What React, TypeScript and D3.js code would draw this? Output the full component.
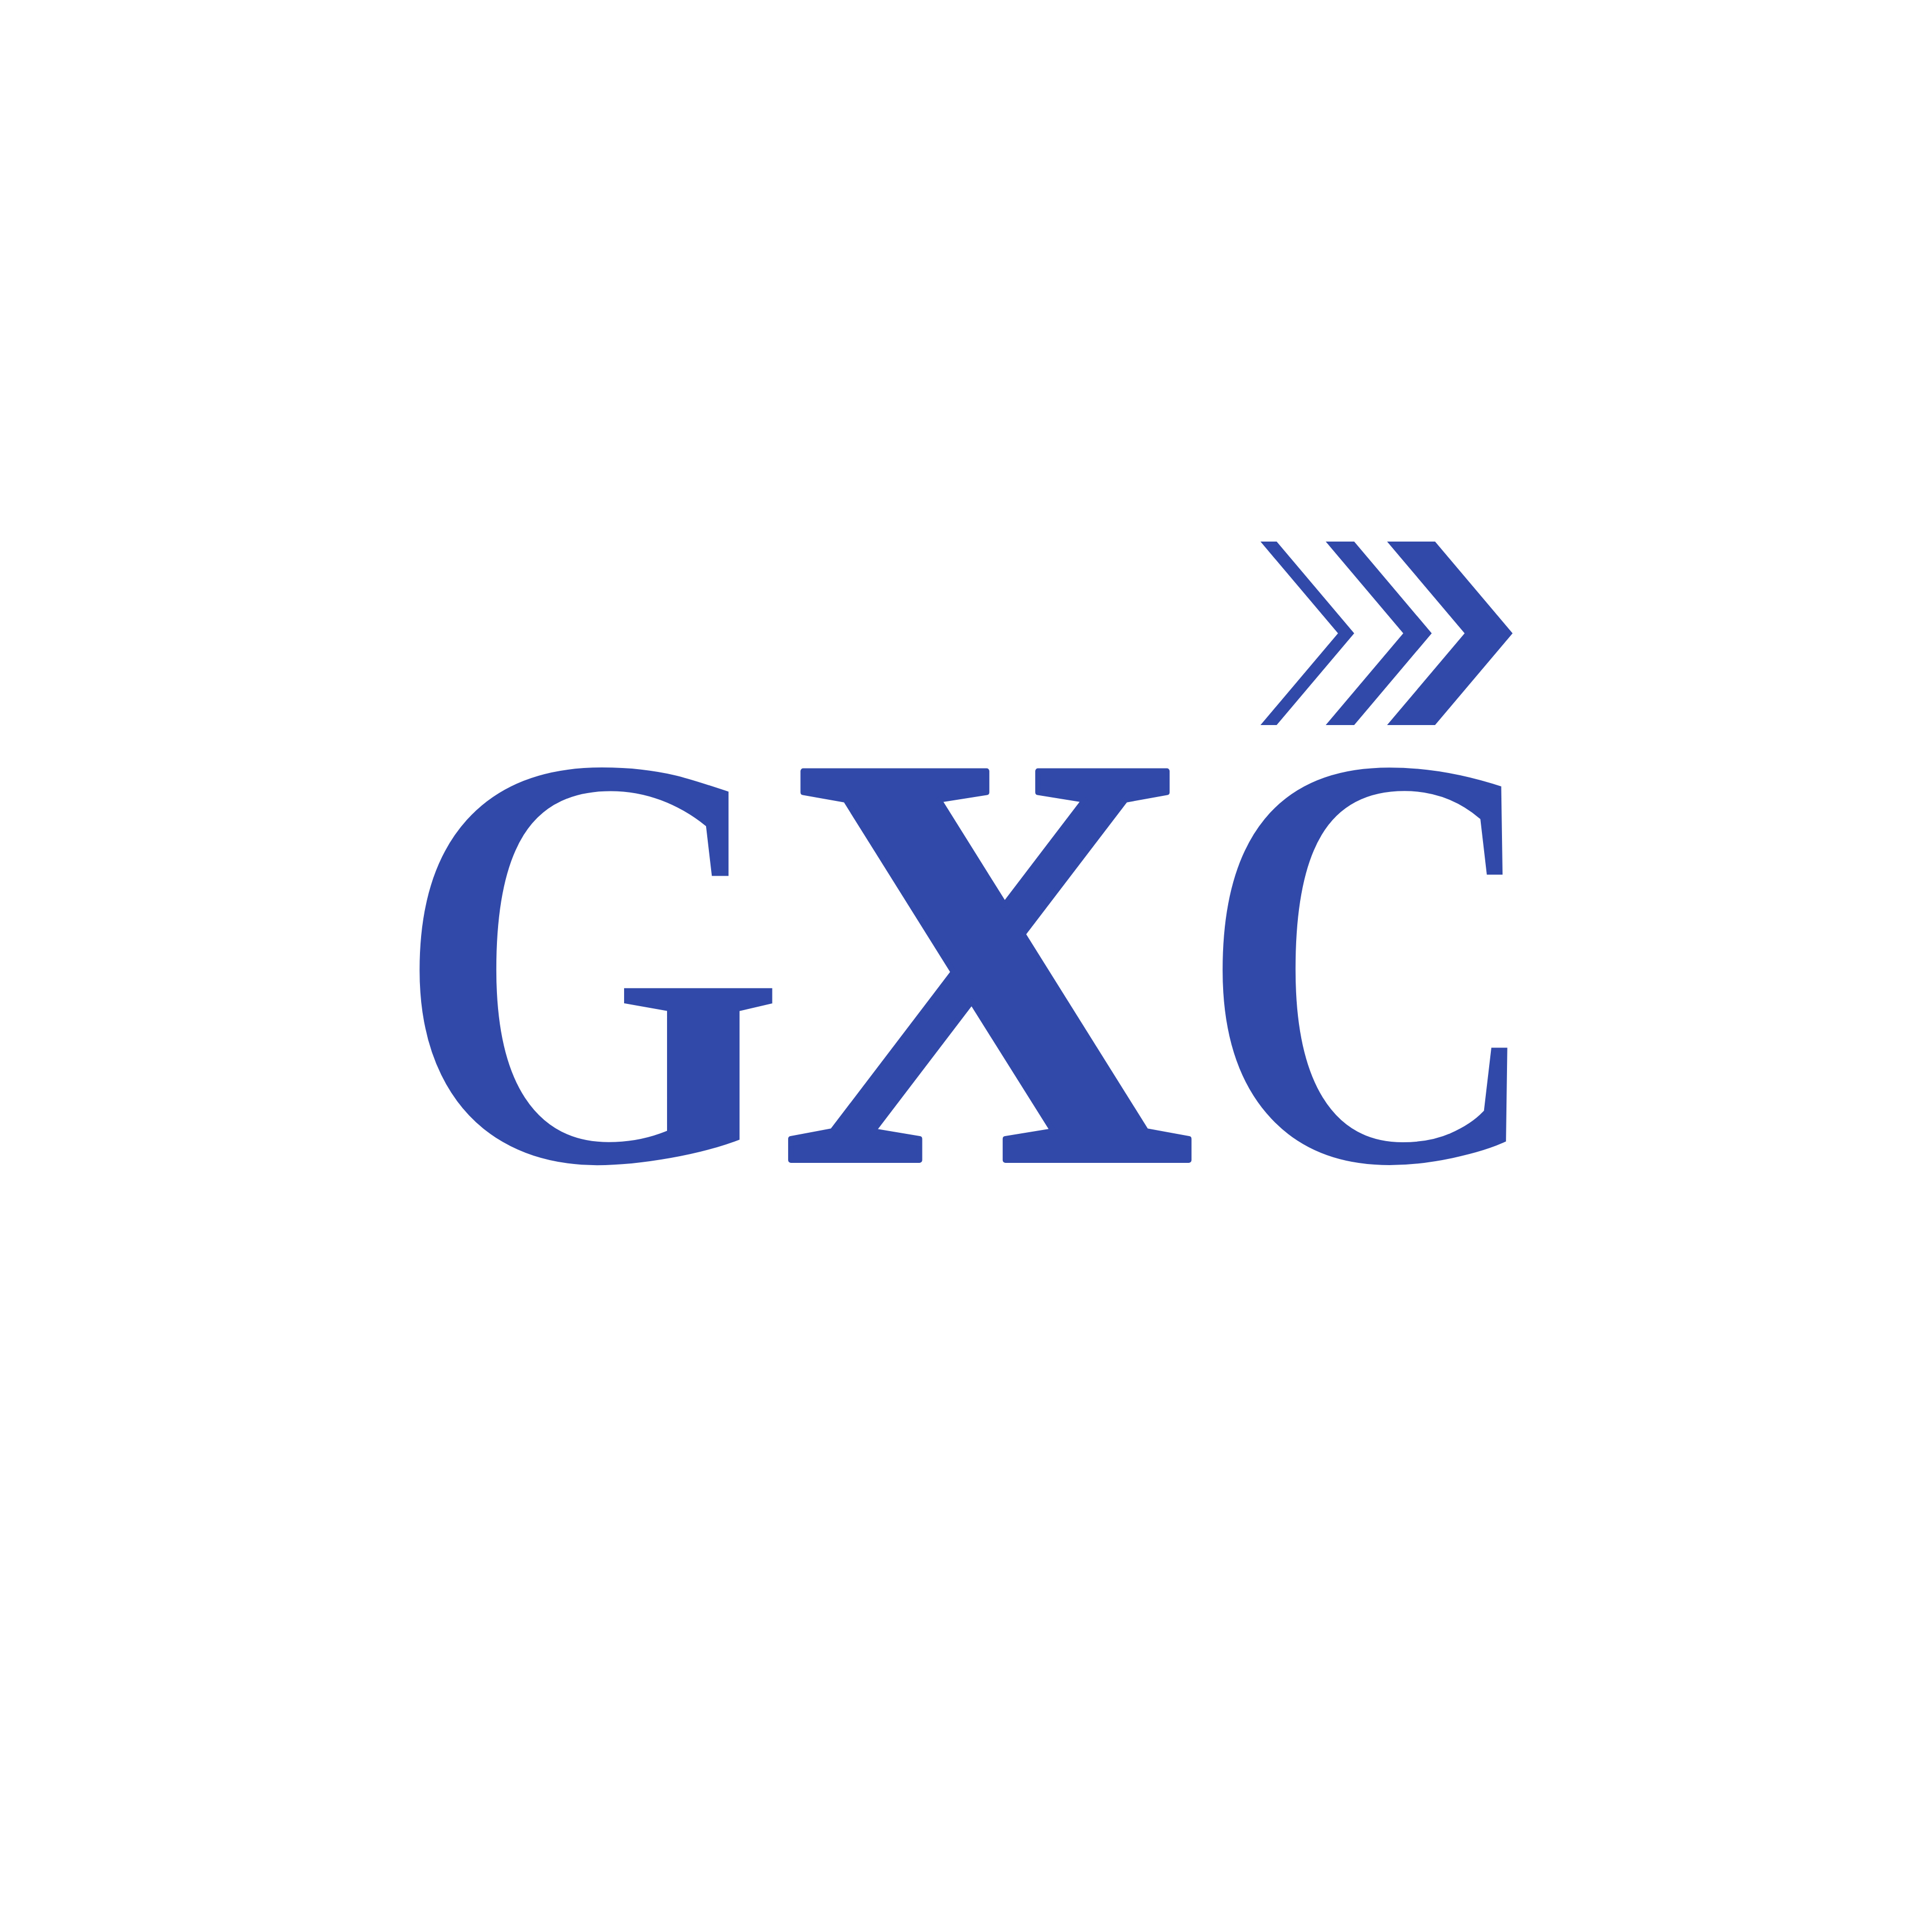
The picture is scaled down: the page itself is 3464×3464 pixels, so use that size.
import { useEffect, useRef } from "react";
import * as d3 from "d3";

const SIZE = 3464;
const BLUE = "#3149a9";
const FONT = '"Liberation Serif", "DejaVu Serif", serif';
const FONT_WEIGHT = "bold";

// wordmark letters and the ink box each one fills: [left, top, right, bottom]
const LETTERS = ["G", "X", "C"];
const LETTER_BOXES: [number, number, number, number][] = [
  [751, 1365, 1398, 2096],
  [1410, 1376, 2145, 2085],
  [2191, 1365, 2711, 2096],
];
// pixels taken off (positive) or added to (negative) each side of a glyph's outline,
// so the weight comes closer to the reference lettering
const LETTER_TRIM = [6, -5, 6];

// the three chevrons above the C: left edge of the arm and arm width
const CHEVRON_LEFT = [2260, 2377, 2487];
const CHEVRON_WIDTH = [29, 51, 86];
const CHEVRON_DEPTH = 139;
const CHEVRON_SPAN: [number, number] = [971, 1300];

export default function App() {
  const svgRef = useRef<SVGSVGElement>(null);

  useEffect(() => {
    if (!svgRef.current) return;
    const svg = d3.select(svgRef.current);
    svg.selectAll("*").remove();

    svg.append("rect").attr("width", SIZE).attr("height", SIZE).attr("fill", "#fff");

    // vertical position along a chevron: 0 = top, 0.5 = tip, 1 = bottom
    const y = d3.scaleLinear().domain([0, 1]).range(CHEVRON_SPAN);
    const line = d3.line().curve(d3.curveLinearClosed);

    svg
      .append("g")
      .selectAll("path")
      .data(CHEVRON_LEFT.map((x, i) => ({ x, w: CHEVRON_WIDTH[i] })))
      .join("path")
      .attr("fill", BLUE)
      .attr("d", (d) =>
        line([
          [d.x, y(0)],
          [d.x + d.w, y(0)],
          [d.x + d.w + CHEVRON_DEPTH, y(0.5)],
          [d.x + d.w, y(1)],
          [d.x, y(1)],
          [d.x + CHEVRON_DEPTH, y(0.5)],
        ]),
      );

    // fit each glyph's ink bounds to its box
    const FS = 1000;
    const ctx = document.createElement("canvas").getContext("2d")!;
    ctx.font = `${FONT_WEIGHT} ${FS}px ${FONT}`;

    const g = svg.append("g");
    LETTERS.forEach((letter, i) => {
      const trim = LETTER_TRIM[i];
      const [L, T, R, B] = LETTER_BOXES[i].map((v, k) => (k < 2 ? v - trim : v + trim));
      const m = ctx.measureText(letter);
      const inkL = -m.actualBoundingBoxLeft;
      const inkR = m.actualBoundingBoxRight;
      const inkT = -m.actualBoundingBoxAscent;
      const inkB = m.actualBoundingBoxDescent;
      const sx = (R - L) / (inkR - inkL);
      const sy = (B - T) / (inkB - inkT);
      g.append("text")
        .attr("transform", `translate(${L - inkL * sx},${T - inkT * sy}) scale(${sx},${sy})`)
        .attr("fill", BLUE)
        .attr("stroke", trim > 0 ? "#fff" : BLUE)
        .attr("stroke-width", (2 * Math.abs(trim)) / Math.sqrt(sx * sy))
        .attr("stroke-linejoin", trim > 0 ? "miter" : "round")
        .style("font-family", FONT)
        .style("font-weight", FONT_WEIGHT)
        .style("font-size", `${FS}px`)
        .text(letter);
    });
  }, []);

  return (
    <svg
      ref={svgRef}
      width={SIZE}
      height={SIZE}
      viewBox={`0 0 ${SIZE} ${SIZE}`}
      style={{ position: "absolute", left: 0, top: 0, display: "block" }}
    />
  );
}
